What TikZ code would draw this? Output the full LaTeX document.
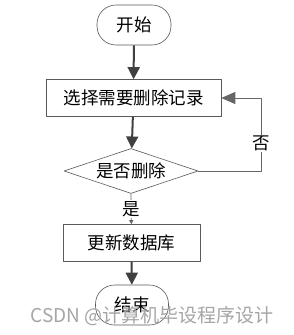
\documentclass[tikz,border=0pt]{standalone}
\usepackage{fontspec}
\setmainfont{Noto Sans CJK SC}
\usetikzlibrary{shapes.geometric,arrows.meta}
\tikzset{
  term/.style={draw=black!65, line width=.6pt, rounded corners=19pt, minimum width=74pt, minimum height=40pt, inner sep=0pt},
  proc/.style={draw=black!65, line width=.6pt, minimum height=37pt, inner sep=0pt},
  decide/.style={draw=black!65, line width=.6pt, diamond, aspect=3, inner sep=0pt, minimum width=134pt, minimum height=45pt},
  flow/.style={draw=black!75, line width=2pt, -{Triangle[length=12pt,width=12pt]}},
  loopline/.style={draw=black!60, line width=.8pt, -{Triangle[length=14pt,width=12pt]}},
  yesline/.style={draw=black!60, line width=.8pt, -{Triangle[length=4pt,width=4pt]}}
}
\begin{document}
\begin{tikzpicture}[x=1pt, y=-1pt, font=\fontsize{17.5}{17.5}\selectfont, line join=round]
  \useasboundingbox[fill=white] (0,0) rectangle (293,335);
  \node[term] (start) at (134,25) {开始};
  \node[proc, minimum width=175pt] (select) at (133.5,98) {选择需要删除记录};
  \node[decide] (ask) at (131,171) {是否删除};
  \node[proc, minimum width=137pt] (update) at (131.5,243) {更新数据库};
  \node[term, minimum width=73pt] (stop) at (132,305) {结束};
  \coordinate (back) at (261,171);

  \draw[flow] (start) -- (select);
  \draw[flow] (select) -- (ask);
  \draw[loopline] (ask.east) -- (back) |- (select.east)
    node[pos=.19, fill=white, inner sep=1pt] {否};
  \draw[yesline] (ask.south) -- (update)
    node[midway, fill=white, inner sep=1pt] {是};
  \draw[flow] (update) -- (stop);

  \node[text=black!35, font=\fontsize{19}{19}\selectfont] (mark) at (152,316) {CSDN @计算机毕设程序设计};
\end{tikzpicture}
\end{document}
